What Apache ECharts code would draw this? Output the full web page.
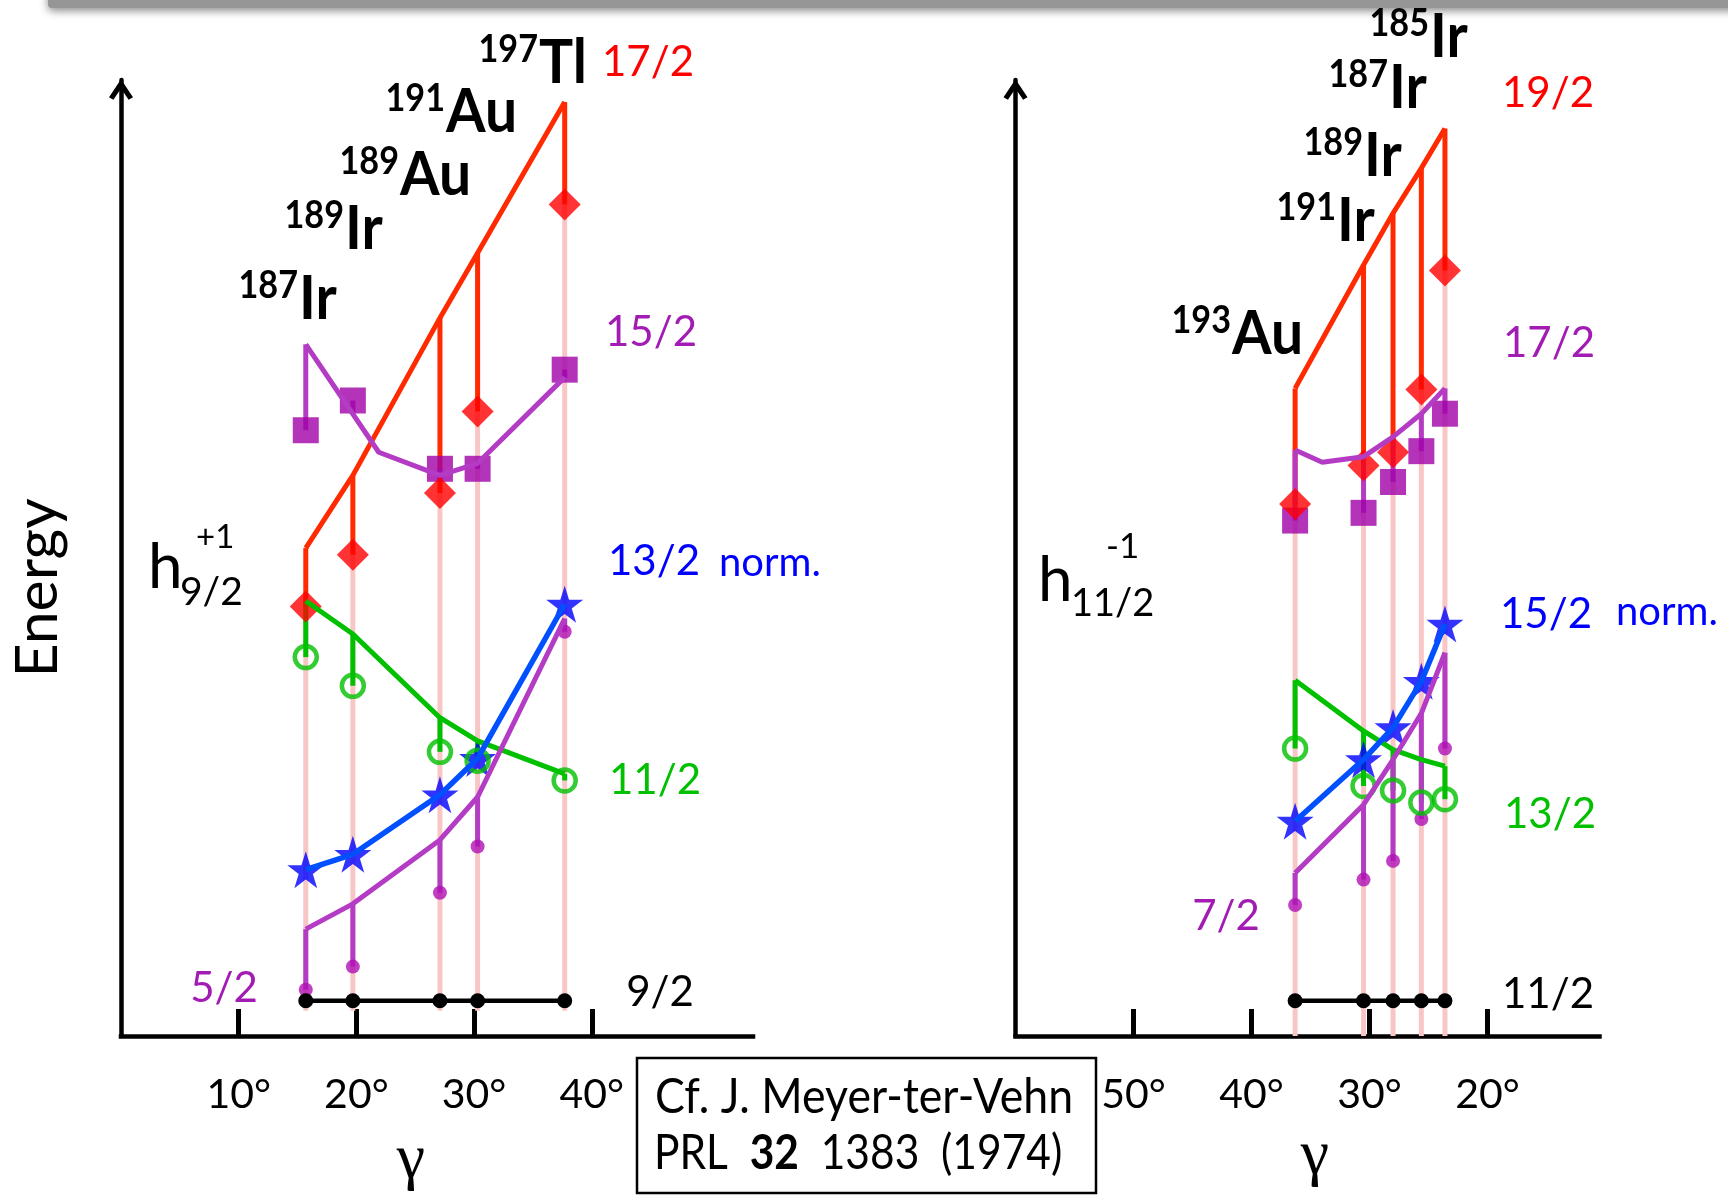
<!DOCTYPE html>
<html>
<head>
<meta charset="utf-8">
<script src="https://cdn.jsdelivr.net/npm/echarts@6/dist/echarts.min.js"></script>
<style>
  html, body { margin: 0; padding: 0; background: #fff; }
  #chart { width: 1728px; height: 1195px; }
</style>
</head>
<body>
<div id="chart"></div>
<script>
// ---- γ deformation of each nucleus (degrees) ----
const gammaL = [15.7, 19.7, 27.1, 30.3, 37.7];   // 187Ir 189Ir 189Au 191Au 197Tl
const gammaR = [36.3, 30.5, 28.0, 25.6, 23.6];   // 193Au 191Ir 189Ir 187Ir 185Ir

// tick positions of the γ axes
const ticksL = [10, 20, 30, 40];
const ticksR = [50, 40, 30, 20];

// ---- h9/2 (+1) band, energies in arbitrary units ----
const ground92 = [3.2, 3.2, 3.2, 3.2, 3.2];
const exp172L = [39.0, 43.7, 49.3, 56.7, 75.5];
const th172L  = [44.3, 50.9, 65.2, 71.1, 84.8];
const exp152L = [55.0, 57.7, 51.5, 51.5, 60.5];
const th152L  = [62.8, 56.5, 50.9, 52.0, 59.8];
const th152LGamma = [15.7, 21.9, 27.1, 30.3, 37.7];
const th152LCurve = [62.8, 53.0, 50.9, 52.0, 59.8];
const exp112L = [34.4, 31.8, 25.8, 25.0, 23.2];
const th112L  = [39.5, 36.5, 28.9, 26.8, 23.8];
const exp132L = [15.1, 16.5, 21.9, 25.2, 39.2];
const exp52L  = [4.2, 6.3, 13.0, 17.2, 36.7];
const th52L   = [9.7, 12.0, 17.8, 21.7, 37.9];

// ---- h11/2 (-1) band ----
const ground112 = [3.2, 3.2, 3.2, 3.2, 3.2];
const exp192R = [48.3, 51.8, 53.0, 58.7, 69.5];
const th192R  = [58.8, 70.0, 74.7, 78.8, 82.4];
const exp172R = [46.8, 47.5, 50.3, 53.1, 56.5];
const th172R  = [53.2, 52.6, 54.4, 56.5, 58.8];
const th172RGamma = [36.3, 34.0, 30.5, 28.0, 25.6, 23.6];
const th172RCurve = [53.2, 52.1, 52.6, 54.4, 56.5, 58.8];
const exp132R = [26.1, 22.7, 22.3, 21.2, 21.5];
const th132R  = [32.3, 27.7, 26.0, 25.1, 24.5];
const exp152R = [19.5, 25.1, 28.0, 32.2, 37.4];
const exp72R  = [11.9, 14.2, 15.9, 19.7, 26.1];
const th72R   = [14.8, 21.0, 25.1, 29.3, 34.8];

// ---- styling ----
const FONT = 'Lato';
const E_MAX = 86.8;
const STEM_FLOOR_L = 2.3;
const STEM_FLOOR_R = 0;
const LW = 5;
const COL = {
  red: '#ff0000', redLine: '#ff2a00',
  purple: '#a000a8', purpleLine: '#b43cc4', purpleText: '#a21cb4',
  green: '#00c000', blue: '#0000ff', blueLine: '#0050ff',
  pink: '#f9c6c6', black: '#000000'
};
const STAR = 'path://M50,0 L61.2,34.5 L97.6,34.5 L68.2,55.9 L79.4,90.5 L50,69.1 L20.6,90.5 L31.8,55.9 L2.4,34.5 L38.8,34.5 Z';
const CHEVRON = 'path://M0,18 L12,0 L24,18 L19.6,20.6 L12,9.2 L4.4,20.6 Z';

const zip = (g, v) => g.map((x, i) => [x, v[i]]);

function xAxisCfg(grid, min, max, ticks, inverse) {
  return {
    type: 'value', gridIndex: grid, min: min, max: max, inverse: inverse,
    axisLine: { show: true, onZero: false, lineStyle: { color: '#000', width: 4.5, cap: 'square' } },
    axisTick: { show: true, inside: true, length: 27, customValues: ticks, lineStyle: { color: '#000', width: 5 } },
    axisLabel: { show: true, customValues: ticks, formatter: v => v + '°', margin: 38,
                 color: '#000', fontSize: 41, fontFamily: FONT },
    splitLine: { show: false }
  };
}
function yAxisCfg(grid) {
  return {
    type: 'value', gridIndex: grid, min: 0, max: E_MAX,
    axisLine: { show: true, onZero: false, symbol: ['none', CHEVRON], symbolSize: [24, 20.6],
                symbolOffset: [0, -9.5], lineStyle: { color: '#000', width: 4.5 } },
    axisTick: { show: false }, axisLabel: { show: false }, splitLine: { show: false }
  };
}

// vertical segment series: one segment per nucleus from value[1] to value[2]
function segments(p, gammas, from, to, color, width) {
  return {
    type: 'custom', xAxisIndex: p, yAxisIndex: p, silent: true,
    data: gammas.map((g, i) => [g, from[i], Array.isArray(to) ? to[i] : to]),
    encode: { x: 0, y: [1, 2] },
    renderItem: (params, api) => {
      const a = api.coord([api.value(0), api.value(1)]);
      const b = api.coord([api.value(0), api.value(2)]);
      return { type: 'line', shape: { x1: a[0], y1: a[1], x2: b[0], y2: b[1] },
               style: { stroke: color, lineWidth: width } };
    }
  };
}
function curve(p, gammas, vals, color, width) {
  return { type: 'line', xAxisIndex: p, yAxisIndex: p, data: zip(gammas, vals), symbol: 'none',
           silent: true, lineStyle: { color: color, width: width } };
}
function marks(p, gammas, vals, symbol, size, itemStyle) {
  return { type: 'scatter', xAxisIndex: p, yAxisIndex: p, data: zip(gammas, vals), symbol: symbol,
           symbolSize: size, silent: true, itemStyle: itemStyle };
}
function panel(p, g, d, floor) {
  return [
    segments(p, g, d.exp19, floor, COL.pink, 5),
    curve(p, g, d.th19, COL.redLine, LW),
    segments(p, g, d.th19, d.exp19, COL.redLine, LW),
    curve(p, d.th17Gamma, d.th17Curve, COL.purpleLine, LW),
    segments(p, g, d.th17, d.exp17, COL.purpleLine, LW),
    curve(p, g, d.th13, COL.green, LW),
    segments(p, g, d.th13, d.exp13, COL.green, LW),
    curve(p, g, d.thLow, COL.purpleLine, LW),
    segments(p, g, d.thLow, d.expLow, COL.purpleLine, LW),
    marks(p, g, d.norm, STAR, 37, { color: COL.blue }),
    curve(p, g, d.norm, COL.blueLine, 5.5),
    { type: 'line', xAxisIndex: p, yAxisIndex: p, data: zip(g, d.ground), symbol: 'circle', symbolSize: 15,
      showSymbol: true, silent: true, lineStyle: { color: COL.black, width: 4.5 },
      itemStyle: { color: COL.black } },
    marks(p, g, d.expLow, 'circle', 14, { color: '#b010b4' }),
    marks(p, g, d.exp13, 'circle', 22, { color: 'rgba(0,0,0,0)', borderColor: COL.green, borderWidth: 4.5 }),
    marks(p, g, d.exp17, 'rect', 26, { color: COL.purple }),
    marks(p, g, d.exp19, 'diamond', 32, { color: COL.red })
  ];
}

const left = { exp19: exp172L, th19: th172L, exp17: exp152L, th17: th152L, th17Gamma: th152LGamma,
  th17Curve: th152LCurve, exp13: exp112L, th13: th112L, norm: exp132L, expLow: exp52L, thLow: th52L,
  ground: ground92 };
const right = { exp19: exp192R, th19: th192R, exp17: exp172R, th17: th172R, th17Gamma: th172RGamma,
  th17Curve: th172RCurve, exp13: exp132R, th13: th132R, norm: exp152R, expLow: exp72R, thLow: th72R,
  ground: ground112 };

// ---- text annotations ----
function text(x, y, str, size, color, opts) {
  opts = opts || {};
  return {
    type: 'text', x: x, y: y, silent: true, rotation: opts.rotation || 0,
    scaleX: opts.scaleX || 1,
    style: { text: str, fill: color, fontSize: size, fontFamily: opts.family || FONT,
             fontWeight: opts.weight || 'normal', align: opts.align || 'center', verticalAlign: 'middle',
             rich: opts.rich }
  };
}
// nucleus name: mass number as superscript left of split, symbol right of it
function nucleus(mass, sym, split, cy) {
  return [
    text(split - 1, cy - 13, mass, 38, '#000', { weight: 'bold', align: 'right', scaleX: 0.9 }),
    text(split, cy, sym, 62, '#000', { weight: 'bold', align: 'left', scaleX: 0.92 })
  ];
}

const graphics = [
  { type: 'rect', silent: true, shape: { x: 48, y: -30, width: 1720, height: 38, r: 4 },
    style: { fill: '#969696', shadowBlur: 9, shadowColor: 'rgba(0,0,0,0.45)', shadowOffsetY: 3 } },
  text(38, 588, 'Energy', 59, '#000', { rotation: Math.PI / 2 }),

  ...nucleus('197', 'Tl', 539, 63),
  ...nucleus('191', 'Au', 446, 112),
  ...nucleus('189', 'Au', 400, 175),
  ...nucleus('189', 'Ir', 345, 229),
  ...nucleus('187', 'Ir', 299, 299),
  ...nucleus('185', 'Ir', 1430, 37),
  ...nucleus('187', 'Ir', 1389, 88),
  ...nucleus('189', 'Ir', 1364, 156),
  ...nucleus('191', 'Ir', 1337, 221),
  ...nucleus('193', 'Au', 1232, 334),

  text(648, 62, '17/2', 42, COL.red),
  text(651, 332, '15/2', 42, COL.purpleText),
  text(654, 561, '13/2', 42, COL.blue),
  text(770, 563, 'norm.', 40, COL.blue),
  text(655, 780, '11/2', 42, COL.green),
  text(660, 992, '9/2', 42, '#000'),
  text(224, 988, '5/2', 42, COL.purpleText),

  text(1548, 93, '19/2', 42, COL.red),
  text(1549, 343, '17/2', 42, COL.purpleText),
  text(1546, 614, '15/2', 42, COL.blue),
  text(1667, 612, 'norm.', 40, COL.blue),
  text(1550, 814, '13/2', 42, COL.green),
  text(1226, 916, '7/2', 42, COL.purpleText),
  text(1548, 994, '11/2', 42, '#000'),

  text(148, 568, 'h', 62, '#000', { align: 'left' }),
  text(180, 592, '9/2', 39, '#000', { align: 'left' }),
  text(196, 537, '+1', 33, '#000', { align: 'left' }),
  text(1038, 581, 'h', 62, '#000', { align: 'left' }),
  text(1071, 604, '11/2', 38, '#000', { align: 'left' }),
  text(1106, 547, '-1', 35, '#000', { align: 'left' }),

  text(411, 1160, 'γ', 64, '#000', { family: 'Liberation Serif' }),
  text(1315, 1156, 'γ', 64, '#000', { family: 'Liberation Serif' }),

  { type: 'rect', silent: true, shape: { x: 637, y: 1058, width: 459, height: 135 },
    style: { fill: 'none', stroke: '#000', lineWidth: 2.5 } },
  text(655, 1098, 'Cf. J. Meyer-ter-Vehn', 48, '#000', { align: 'left', scaleX: 0.93 }),
  text(654, 1154, '{n|PRL  }{b|32}{n|  1383  (1974)}', 48, '#000', { align: 'left', scaleX: 0.885,
    rich: { n: { fontSize: 48, fontFamily: FONT, fill: '#000' },
            b: { fontSize: 48, fontFamily: FONT, fontWeight: 'bold', fill: '#000' } } })
];

const chart = echarts.init(document.getElementById('chart'), null, { renderer: 'canvas' });
chart.setOption({
  animation: false,
  backgroundColor: '#fff',
  grid: [
    { left: 121, top: 80, width: 632, height: 956 },
    { left: 1015.5, top: 80, width: 584, height: 956 }
  ],
  xAxis: [xAxisCfg(0, 0, 53.7, ticksL, false), xAxisCfg(1, 10.5, 60, ticksR, true)],
  yAxis: [yAxisCfg(0), yAxisCfg(1)],
  series: [...panel(0, gammaL, left, STEM_FLOOR_L), ...panel(1, gammaR, right, STEM_FLOOR_R)],
  graphic: graphics
});
</script>
</body>
</html>
